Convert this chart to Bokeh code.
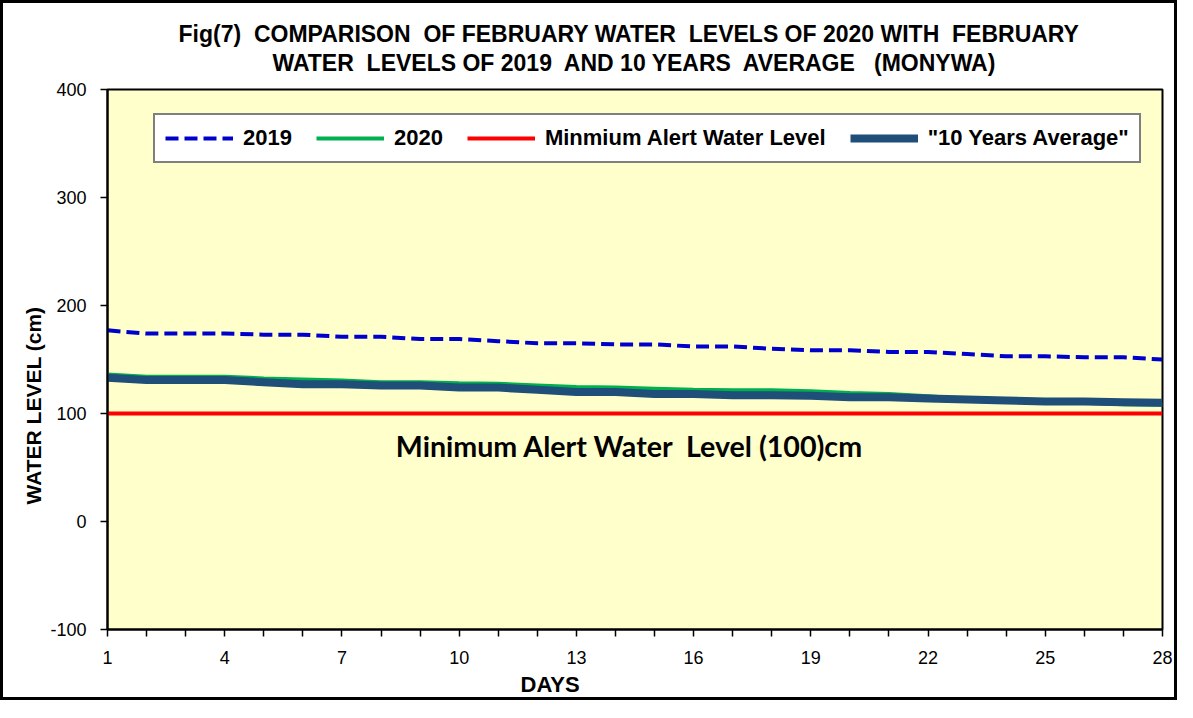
from bokeh.plotting import figure
from bokeh.models import Label, Legend, LegendItem, FixedTicker, Range1d, Title, LinearAxis
from bokeh.embed import file_html
from bokeh.resources import INLINE

# ---------------- data ----------------
days = list(range(1, 29))
level_2019 = [177, 174, 174, 174, 173, 173, 171, 171, 169, 169, 167, 165, 165, 164,
              164, 162, 162, 160, 158.5, 158.5, 157, 157, 155, 153, 153, 152, 152, 150]
level_2020 = [136, 134, 134, 134, 132.5, 131.5, 130.5, 129, 129, 128, 127.5, 126, 124.5, 124,
              123, 122, 121.5, 121.5, 120.5, 119, 118, 116, 113.5, 112, 111, 110, 108.5, 108]
avg_10yr = [133, 131, 131, 131, 129, 127, 127, 126, 126, 124, 124, 122, 120, 120,
            118, 118, 117, 117, 116.5, 115, 115, 114, 113, 112, 111, 111, 110.5, 110]
alert_level = 100
y_ticks = [-100, 0, 100, 200, 300, 400]
x_labelled = [1, 4, 7, 10, 13, 16, 19, 22, 25, 28]

NB = "\u00a0"
title_lines = ["Fig(7)" + NB + " COMPARISON" + NB + " OF FEBRUARY WATER" + NB + " LEVELS OF 2020 WITH" + NB + " FEBRUARY",
               "WATER" + NB + " LEVELS OF 2019" + NB + " AND 10 YEARS" + NB + " AVERAGE" + NB + NB + " (MONYWA)"]
series_names = ["2019", "2020", "Minmium Alert Water Level", "\"10 Years Average\""]
annotation_text = "Minimum Alert Water" + NB + " Level (100)cm"
y_title = "WATER LEVEL (cm)"
x_title = "DAYS"

FONT = "Liberation Sans"

p = figure(width=1177, height=700, output_backend="svg", toolbar_location=None,
           x_range=Range1d(1, 28), y_range=Range1d(-100, 400),
           min_border_left=104, min_border_right=18, min_border_top=86, min_border_bottom=74)
p.styles = {"border": "3px solid black"}
p.background_fill_color = "#FFFFCC"
p.border_fill_color = "white"
p.outline_line_color = "black"
p.outline_line_width = 2
p.xgrid.visible = False
p.ygrid.visible = False

# axes
p.xaxis.ticker = FixedTicker(ticks=days)
p.xaxis.major_label_overrides = {d: (str(d) if d in x_labelled else "") for d in days}
p.yaxis.ticker = FixedTicker(ticks=y_ticks)
p.yaxis.major_label_overrides = {t: str(t) for t in y_ticks}
for ax in (p.xaxis[0], p.yaxis[0]):
    ax.axis_line_color = "black"
    ax.axis_line_width = 2
    ax.major_tick_line_color = "black"
    ax.major_tick_line_width = 1.5
    ax.major_tick_in = 0
    ax.major_tick_out = 7
    ax.minor_tick_line_color = None
    ax.major_label_text_font = FONT
    ax.major_label_text_font_size = "18px"
    ax.major_label_text_color = "black"
p.xaxis.major_label_standoff = 14
p.yaxis.major_label_standoff = 14

# lines
r2019 = p.line(days, level_2019, line_color="#0000CC", line_width=4, line_dash="13 6")
r2020 = p.line(days, level_2020, line_color="#00B050", line_width=4)
ralert = p.line(days, [alert_level] * len(days), line_color="#FF0000", line_width=4)
ravg = p.line(days, avg_10yr, line_color="#1F4E79", line_width=8)

legend = Legend(items=[LegendItem(label=series_names[0], renderers=[r2019]),
                       LegendItem(label=series_names[1], renderers=[r2020]),
                       LegendItem(label=series_names[2], renderers=[ralert]),
                       LegendItem(label=series_names[3], renderers=[ravg])],
                orientation="horizontal", location=(46, 466))
legend.label_text_font = FONT
legend.label_text_font_style = "bold"
legend.label_text_font_size = "22px"
legend.label_text_color = "black"
legend.glyph_width = 68
legend.glyph_height = 20
legend.label_standoff = 10
legend.spacing = 24
legend.padding = 10
legend.margin = 0
legend.border_line_color = "black"
legend.border_line_width = 2
legend.background_fill_color = "white"
legend.background_fill_alpha = 1
p.add_layout(legend, "center")

# second title line: label of a bare axis above the frame
top_axis = LinearAxis(ticker=FixedTicker(ticks=[]), axis_label=title_lines[1],
                      axis_line_color=None, major_tick_line_color=None,
                      minor_tick_line_color=None, major_label_text_font_size="0px",
                      axis_label_text_font=FONT, axis_label_text_font_style="bold",
                      axis_label_text_font_size="23px", axis_label_text_color="black",
                      axis_label_text_line_height=1.0, axis_label_standoff=14)
p.add_layout(top_axis, "above")
# first title line
p.add_layout(Title(text=title_lines[0], align="left", offset=71, text_font=FONT,
                   text_font_style="bold", text_font_size="23px", text_color="black",
                   text_line_height=0.8, standoff=0), "above")
p.add_layout(Title(text=y_title, align="left", offset=125, text_font=FONT, text_font_style="bold",
                   text_font_size="21px", text_color="black", standoff=6), "left")
p.add_layout(Title(text=x_title, align="left", offset=413, text_font=FONT, text_font_style="bold",
                   text_font_size="22px", text_color="black", text_line_height=1.0,
                   standoff=6), "below")

p.add_layout(Label(x=14.36, y=70, text=annotation_text, text_align="center", text_baseline="middle",
                   text_font="Lato", text_font_style="bold", text_font_size="28.6px",
                   text_color="black"))

open("out.html", "w").write(file_html(p, INLINE))
